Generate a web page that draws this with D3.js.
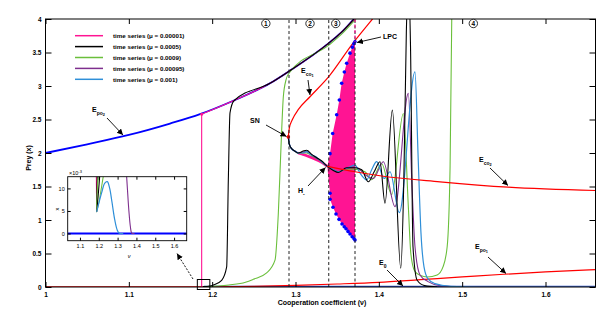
<!DOCTYPE html>
<html>
<head>
<meta charset="utf-8">
<script src="https://cdn.jsdelivr.net/npm/d3@7"></script>
<style>
  body { margin: 0; background: #fff; }
  svg { display: block; font-family: "Liberation Sans", Arial, sans-serif; }
</style>
</head>
<body>
<div id="chart"></div>
<script>
// axis ticks
const xTicks = [1, 1.1, 1.2, 1.3, 1.4, 1.5, 1.6];
const yTicks = [0, 0.5, 1, 1.5, 2, 2.5, 3, 3.5, 4];
const insetXTicks = [1.1, 1.2, 1.3, 1.4, 1.5, 1.6];
const insetYTicks = [0, 5, 10];

// legend
const legendLabels = [
  'time series (\u03bc = 0.00001)',
  'time series (\u03bc = 0.0005)',
  'time series (\u03bc = 0.0009)',
  'time series (\u03bc = 0.00095)',
  'time series (\u03bc = 0.001)'
];

// equilibrium branches [nu, x]
const ePo2 = [[1.0, 2.0], [1.05, 2.13], [1.1, 2.27], [1.1494, 2.44], [1.1854, 2.58], [1.2254, 2.78],
  [1.2694, 3.04], [1.2922, 3.22], [1.3399, 3.64], [1.355, 3.80], [1.3702, 4.0], [1.38, 4.13]];
const eCoUpper = [[1.2914, 2.24], [1.2926, 2.37], [1.2963, 2.5], [1.3035, 2.65], [1.3174, 2.84],
  [1.3399, 3.14], [1.369, 3.64], [1.393, 4.01], [1.40, 4.12]];
const eCoStable = [[1.2914, 2.24], [1.2924, 2.14], [1.2950, 2.07], [1.2990, 2.03], [1.3034, 2.0],
  [1.3195, 1.94], [1.3315, 1.87], [1.3382, 1.80]];
const eCoUnstable = [[1.3382, 1.80], [1.3714, 1.72], [1.4014, 1.66], [1.4734, 1.57], [1.555, 1.49], [1.66, 1.44]];
const ePo1 = [[1.19, 0], [1.25, 0.01], [1.30, 0.025], [1.35, 0.045], [1.40, 0.07], [1.45, 0.11],
  [1.50, 0.15], [1.55, 0.19], [1.60, 0.225], [1.66, 0.26]];
const e0Unstable = [[1.0, 0], [1.19, 0]];
const e0Stable = [[1.19, 0], [1.66, 0]];
const pinkBranch = [[1.3034, 2.0], [1.3195, 1.93], [1.3315, 1.86], [1.3382, 1.80]];

// limit cycle amplitude (max / min) between H and LPC
const lcMax = [[1.3382, 1.80], [1.3414, 1.99], [1.3446, 2.29], [1.3494, 2.57], [1.3526, 2.79], [1.3554, 3.04],
  [1.3586, 3.21], [1.3614, 3.34], [1.3654, 3.49], [1.3682, 3.58], [1.3700, 3.63], [1.3714, 3.66]];
const lcMin = [[1.3382, 1.80], [1.3414, 1.40], [1.3414, 1.31], [1.345, 1.19], [1.3486, 1.09], [1.3522, 1.01],
  [1.3558, 0.94], [1.3585, 0.90], [1.3606, 0.87], [1.3630, 0.83], [1.3654, 0.79], [1.3680, 0.75],
  [1.3702, 0.72], [1.3714, 0.70]];

// time series, each as segments of [nu, x]
const tsPink = [
  [[1.1874, 0], [1.1874, 2.58]],
  [[1.1874, 2.58], [1.2254, 2.78], [1.2694, 3.04], [1.2922, 3.22], [1.3399, 3.64], [1.355, 3.80], [1.3702, 4.0], [1.38, 4.13]]
];
const tsBlack = [
  [[1.189, 0.005], [1.1975, 0.015], [1.2014, 0.03], [1.2114, 0.10], [1.2174, 0.30], [1.2194, 1.6], [1.2214, 2.6],
    [1.2262, 2.78], [1.2694, 3.04], [1.2922, 3.22], [1.3399, 3.64], [1.355, 3.80], [1.3702, 4.0], [1.38, 4.13]],
  [[1.2914, 2.24], [1.2924, 2.14], [1.2950, 2.07], [1.2990, 2.03], [1.3034, 2.0], [1.3094, 2.03], [1.3134, 2.04],
    [1.3194, 1.98], [1.3254, 1.93], [1.3315, 1.88], [1.3382, 1.80], [1.3454, 1.74], [1.3514, 1.71], [1.3614, 1.78],
    [1.3714, 1.78], [1.3795, 1.75], [1.3874, 1.57], [1.3944, 1.72], [1.4014, 1.87], [1.4074, 1.25], [1.4162, 2.64],
    [1.4263, 0.28], [1.4300, 1.6], [1.4330, 3.8], [1.4355, 4.6], [1.4380, 3.6], [1.4410, 0.6], [1.4460, 0.1],
    [1.455, 0.02], [1.47, 0]]
];
const tsGreen = [
  [[1.189, 0.005], [1.22, 0.03], [1.24, 0.07], [1.2494, 0.115], [1.2654, 0.21], [1.2754, 0.40], [1.2794, 1.10],
    [1.2826, 2.09], [1.2854, 2.84], [1.2886, 3.09], [1.2922, 3.19], [1.3399, 3.61], [1.355, 3.77], [1.3702, 3.97], [1.38, 4.1]],
  [[1.2914, 2.24], [1.2924, 2.14], [1.2950, 2.07], [1.2990, 2.03], [1.3034, 2.0], [1.3134, 2.0], [1.3194, 1.96],
    [1.3315, 1.87], [1.3382, 1.80], [1.3454, 1.75], [1.3514, 1.72], [1.3614, 1.76], [1.3714, 1.76], [1.3834, 1.72],
    [1.3914, 1.60], [1.4034, 1.84], [1.4154, 1.38], [1.4294, 2.59], [1.4354, 1.2], [1.4384, 0.5], [1.443, 0.24],
    [1.45, 0.17], [1.458, 0.15], [1.470, 0.18], [1.477, 0.3], [1.482, 0.6], [1.4855, 1.8], [1.4875, 4.0], [1.489, 4.6]]
];
const tsPurple = [
  [[1.2914, 2.24], [1.2924, 2.14], [1.2950, 2.07], [1.2990, 2.03], [1.3034, 2.0], [1.3134, 2.02], [1.3194, 1.97],
    [1.3315, 1.87], [1.3382, 1.80], [1.3454, 1.75], [1.3514, 1.72], [1.3614, 1.77], [1.3714, 1.79], [1.3854, 1.66],
    [1.3934, 1.62], [1.4054, 1.87], [1.4194, 1.20], [1.4354, 2.89], [1.4398, 1.5], [1.4434, 0.6], [1.4494, 0.18],
    [1.459, 0.08], [1.4734, 0.02], [1.50, 0], [1.66, 0]]
];
const tsBlue = [
  [[1.2914, 2.24], [1.2924, 2.14], [1.2950, 2.07], [1.2990, 2.03], [1.3034, 2.0], [1.309, 2.0], [1.3134, 2.02],
    [1.3194, 1.97], [1.3234, 1.95], [1.3314, 1.87], [1.3382, 1.80], [1.3454, 1.75], [1.3514, 1.72], [1.3614, 1.77],
    [1.3714, 1.82], [1.3774, 1.70], [1.3854, 1.60], [1.3914, 1.75], [1.3974, 1.87], [1.4064, 1.62], [1.4134, 1.72],
    [1.4246, 1.11], [1.4434, 3.21], [1.447, 2.0], [1.4506, 0.8], [1.4542, 0.3], [1.459, 0.12], [1.4674, 0.05],
    [1.4854, 0.01], [1.52, 0], [1.66, 0]]
];

// bifurcation parameters and region labels
const bifNu = [1.2922, 1.3399, 1.3714];
const snPoint = [1.2914, 2.24];
const regionNames = ['1', '2', '3', '4'];
const regionNu = [1.2644, 1.3174, 1.3483, 1.5134];

// inset (x values in units of 1e-3)
const insetE0 = [[1.035, 0], [1.667, 0]];
const insetPink = [[1.187, 14], [1.189, 4.8]];
const insetBlack = [[1.193, 14], [1.189, 4.8], [1.207, 14]];
const insetGreen = [[1.199, 14], [1.189, 4.8], [1.229, 14]];
const insetBlue = [[1.189, 4.8], [1.215, 9.0], [1.232, 11.2], [1.2453, 11.5], [1.258, 10], [1.27, 7],
  [1.285, 3], [1.2984, 0.73], [1.309, 0.05], [1.33, 0]];
const insetPurple = [[1.346, 14], [1.352, 10], [1.36, 5], [1.368, 1.5], [1.375, 0.1], [1.39, 0]];

const colors = {
  pink: '#ff1493', black: '#000000', green: '#6abf3b', purple: '#7e2f8e', tsBlue: '#2f8fd8',
  blue: '#0000ff', red: '#ff0000', e0: '#2a4fd0'
};

const width = 612, height = 319;
const x = d3.scaleLinear().domain([1, 1.66]).range([45.5, 595.5]);
const y = d3.scaleLinear().domain([0, 4]).range([287, 19]);

const svg = d3.select('#chart').append('svg')
  .attr('width', width).attr('height', height)
  .attr('viewBox', [0, 0, width, height]);

const defs = svg.append('defs');
defs.append('clipPath').attr('id', 'plotclip').append('rect')
  .attr('x', x(1)).attr('y', y(4)).attr('width', x(1.66) - x(1)).attr('height', y(0) - y(4));
defs.append('marker').attr('id', 'arrow')
  .attr('markerUnits', 'userSpaceOnUse').attr('markerWidth', 7).attr('markerHeight', 7)
  .attr('refX', 6).attr('refY', 3).attr('orient', 'auto')
  .append('path').attr('d', 'M0,0 L6,3 L0,6 z').attr('fill', '#000');

const line = d3.line().x(d => x(d[0])).y(d => y(d[1])).curve(d3.curveMonotoneX);
const lineLin = d3.line().x(d => x(d[0])).y(d => y(d[1]));

const plot = svg.append('g').attr('clip-path', 'url(#plotclip)');

function drawPath(g, data, color, w, gen) {
  g.append('path').attr('d', (gen || line)(data)).attr('fill', 'none')
    .attr('stroke', color).attr('stroke-width', w).attr('stroke-linejoin', 'round');
}

// E0 and Epo1
drawPath(plot, e0Stable, colors.e0, 2.6, lineLin);
drawPath(plot, e0Unstable, colors.red, 1.6, lineLin);
drawPath(plot, ePo1, colors.red, 1.2);

// pink limit cycle region
const regionPoly = lcMax.concat(lcMin.slice().reverse());
plot.append('path').attr('d', lineLin(regionPoly) + 'Z').attr('fill', colors.pink).attr('stroke', 'none');

// upper stable branch
drawPath(plot, ePo2, colors.blue, 1.8);

// time series
drawPath(plot, tsPink[0], colors.pink, 1.1, lineLin);
drawPath(plot, tsPink[1], colors.pink, 1.1);
drawPath(plot, eCoStable, colors.blue, 1.3);
drawPath(plot, pinkBranch, colors.pink, 2.6);
tsGreen.forEach(s => drawPath(plot, s, colors.green, 1.1));
tsPurple.forEach(s => drawPath(plot, s, colors.purple, 1.1));
tsBlue.forEach(s => drawPath(plot, s, colors.tsBlue, 1.2));
tsBlack.forEach(s => drawPath(plot, s, colors.black, 1.1));

// unstable branches
drawPath(plot, eCoUpper, colors.red, 1.2);
drawPath(plot, eCoUnstable, colors.red, 1.2);

// limit cycle dots
plot.append('g').selectAll('circle').data(lcMax.slice(1).concat(lcMin.slice(1))).join('circle')
  .attr('cx', d => x(d[0])).attr('cy', d => y(d[1])).attr('r', 1.8).attr('fill', colors.blue);

// SN point and pink jump point
plot.append('circle').attr('cx', x(snPoint[0])).attr('cy', y(snPoint[1])).attr('r', 1.8).attr('fill', colors.red);
plot.append('circle').attr('cx', x(tsPink[0][1][0])).attr('cy', y(tsPink[0][1][1])).attr('r', 1.5).attr('fill', colors.pink);

// dashed bifurcation lines
bifNu.forEach(nu => {
  svg.append('line').attr('x1', x(nu)).attr('x2', x(nu)).attr('y1', y(0)).attr('y2', y(4))
    .attr('stroke', '#222').attr('stroke-width', 1).attr('stroke-dasharray', '3,2.5');
});
svg.append('line').attr('x1', x(bifNu[2])).attr('x2', x(bifNu[2])).attr('y1', y(4)).attr('y2', y(lcMax[lcMax.length - 1][1]))
  .attr('stroke', colors.pink).attr('stroke-width', 1.2).attr('stroke-dasharray', '3,2.5');

// axes
const fmt = d3.format('~g');
const axisFont = g => g.selectAll('text').attr('font-size', 6.5).attr('font-weight', 'bold').attr('fill', '#000');
svg.append('g').attr('transform', `translate(0,${y(0)})`)
  .call(d3.axisBottom(x).tickValues(xTicks).tickSize(-5).tickSizeOuter(0).tickPadding(5).tickFormat(fmt))
  .call(g => g.select('.domain').remove()).call(axisFont);
svg.append('g').attr('transform', `translate(0,${y(4)})`)
  .call(d3.axisTop(x).tickValues(xTicks).tickSize(-5).tickSizeOuter(0).tickFormat(''))
  .call(g => g.select('.domain').remove());
svg.append('g').attr('transform', `translate(${x(1)},0)`)
  .call(d3.axisLeft(y).tickValues(yTicks).tickSize(-6).tickSizeOuter(0).tickPadding(4).tickFormat(fmt))
  .call(g => g.select('.domain').remove()).call(axisFont);
svg.append('g').attr('transform', `translate(${x(1.66)},0)`)
  .call(d3.axisRight(y).tickValues(yTicks).tickSize(-6).tickSizeOuter(0).tickFormat(''))
  .call(g => g.select('.domain').remove());
svg.selectAll('.tick line').attr('stroke', '#000');
svg.append('rect').attr('x', x(1)).attr('y', y(4)).attr('width', x(1.66) - x(1)).attr('height', y(0) - y(4))
  .attr('fill', 'none').attr('stroke', '#000').attr('stroke-width', 1);

// axis titles
svg.append('text').attr('x', 322).attr('y', 305).attr('text-anchor', 'middle')
  .attr('font-size', 7).attr('font-weight', 'bold').text('Cooperation coefficient (\u03bd)');
svg.append('text').attr('transform', 'translate(31,158) rotate(-90)').attr('text-anchor', 'middle')
  .attr('font-size', 7).attr('font-weight', 'bold').text('Prey (x)');

// region labels
regionNu.forEach((nu, i) => {
  const g = svg.append('g').attr('transform', `translate(${x(nu)},23.5)`);
  g.append('circle').attr('r', 4.2).attr('fill', '#fff').attr('stroke', '#000').attr('stroke-width', 0.8);
  g.append('text').attr('y', 2.4).attr('text-anchor', 'middle').attr('font-size', 6.5)
    .attr('font-weight', 'bold').text(regionNames[i]);
});

// annotations
const annotations = [
  { main: 'E', sub: 'po', sub2: '2', tx: 92, ty: 112, x1: 107, y1: 118, x2: 123, y2: 135 },
  { main: 'SN', tx: 250, ty: 123, x1: 266, y1: 125, x2: 286.5, y2: 136.5 },
  { main: 'E', sub: 'co', sub2: '1', tx: 301, ty: 73, x1: 308, y1: 80, x2: 310, y2: 95 },
  { main: 'LPC', tx: 383, ty: 39, x1: 381, y1: 37, x2: 357, y2: 42.5 },
  { main: 'H', sub: '-', tx: 298, ty: 193, x1: 308, y1: 186, x2: 325.5, y2: 167.5 },
  { main: 'E', sub: 'co', sub2: '2', tx: 479, ty: 162, x1: 490, y1: 168, x2: 508, y2: 185.5 },
  { main: 'E', sub: 'po', sub2: '1', tx: 475, ty: 249, x1: 488, y1: 257, x2: 506, y2: 273.5 },
  { main: 'E', sub: '0', tx: 379, ty: 265, x1: 387, y1: 270, x2: 403, y2: 286 }
];
annotations.forEach(a => {
  svg.append('line').attr('x1', a.x1).attr('y1', a.y1).attr('x2', a.x2).attr('y2', a.y2)
    .attr('stroke', '#000').attr('stroke-width', 0.9).attr('marker-end', 'url(#arrow)');
  const t = svg.append('text').attr('x', a.tx).attr('y', a.ty).attr('font-size', 7).attr('font-weight', 'bold');
  t.append('tspan').text(a.main);
  if (a.sub) t.append('tspan').attr('dy', 2.5).attr('font-size', 5).text(a.sub);
  if (a.sub2) t.append('tspan').attr('dy', 1.5).attr('font-size', 3.8).text(a.sub2);
});

// zoom box and dashed arrow to inset
const bx = x(1.19);
svg.append('rect').attr('x', bx - 6.5).attr('y', 279.5).attr('width', 12.5).attr('height', 10)
  .attr('fill', 'none').attr('stroke', '#000').attr('stroke-width', 1);
svg.append('line').attr('x1', 193).attr('y1', 279).attr('x2', 177).attr('y2', 253.5)
  .attr('stroke', '#000').attr('stroke-width', 0.9).attr('stroke-dasharray', '2,1.5').attr('marker-end', 'url(#arrow)');

// legend
const legend = svg.append('g');
const legendColors = [colors.pink, colors.black, colors.green, colors.purple, colors.tsBlue];
legendLabels.forEach((lab, i) => {
  const ly = 35.7 + i * 10.9;
  legend.append('line').attr('x1', 75).attr('x2', 103).attr('y1', ly).attr('y2', ly)
    .attr('stroke', legendColors[i]).attr('stroke-width', 1.5);
  legend.append('text').attr('x', 113).attr('y', ly + 2.2).attr('font-size', 6.2).attr('font-weight', 'bold').text(lab);
});

// inset
const xi = d3.scaleLinear().domain([1.035, 1.667]).range([67.7, 186.7]);
const yi = d3.scaleLinear().domain([-1.6, 12.6]).range([240.7, 176.7]);
const inset = svg.append('g');
defs.append('clipPath').attr('id', 'insetclip').append('rect')
  .attr('x', xi(1.035)).attr('y', yi(12.6)).attr('width', xi(1.667) - xi(1.035)).attr('height', yi(-1.6) - yi(12.6));
inset.append('rect').attr('x', xi(1.035)).attr('y', yi(12.6)).attr('width', xi(1.667) - xi(1.035))
  .attr('height', yi(-1.6) - yi(12.6)).attr('fill', '#fff');
const iline = d3.line().x(d => xi(d[0])).y(d => yi(d[1])).curve(d3.curveCatmullRom.alpha(0.5));
const ig = inset.append('g').attr('clip-path', 'url(#insetclip)');
[[insetE0, colors.blue, 2.2], [insetPink, colors.pink, 1.1], [insetBlack, colors.black, 1.1],
  [insetGreen, colors.green, 1.1], [insetBlue, colors.tsBlue, 1.2], [insetPurple, colors.purple, 1.1]]
  .forEach(([d, c, w]) => ig.append('path').attr('d', iline(d)).attr('fill', 'none')
    .attr('stroke', c).attr('stroke-width', w));
const insetFont = g => g.selectAll('text').attr('font-size', 5.5).attr('fill', '#000');
inset.append('g').attr('transform', `translate(0,${yi(-1.6)})`)
  .call(d3.axisBottom(xi).tickValues(insetXTicks).tickSize(-3).tickSizeOuter(0).tickPadding(3).tickFormat(fmt))
  .call(g => g.select('.domain').remove()).call(insetFont);
inset.append('g').attr('transform', `translate(0,${yi(12.6)})`)
  .call(d3.axisTop(xi).tickValues(insetXTicks).tickSize(-3).tickSizeOuter(0).tickFormat(''))
  .call(g => g.select('.domain').remove());
inset.append('g').attr('transform', `translate(${xi(1.035)},0)`)
  .call(d3.axisLeft(yi).tickValues(insetYTicks).tickSize(-3).tickSizeOuter(0).tickPadding(3))
  .call(g => g.select('.domain').remove()).call(insetFont);
inset.append('g').attr('transform', `translate(${xi(1.667)},0)`)
  .call(d3.axisRight(yi).tickValues(insetYTicks).tickSize(-3).tickSizeOuter(0).tickFormat(''))
  .call(g => g.select('.domain').remove());
inset.selectAll('.tick line').attr('stroke', '#000');
inset.append('rect').attr('x', xi(1.035)).attr('y', yi(12.6)).attr('width', xi(1.667) - xi(1.035))
  .attr('height', yi(-1.6) - yi(12.6)).attr('fill', 'none').attr('stroke', '#000').attr('stroke-width', 0.9);
const expo = inset.append('text').attr('x', 69).attr('y', 175).attr('font-size', 5.5);
expo.append('tspan').text('\u00d710');
expo.append('tspan').attr('dy', -2).attr('font-size', 4).text('-3');
inset.append('text').attr('transform', 'translate(59,209) rotate(-90)').attr('text-anchor', 'middle')
  .attr('font-size', 5.5).text('x');
inset.append('text').attr('x', 129).attr('y', 258).attr('text-anchor', 'middle')
  .attr('font-size', 5.5).attr('font-style', 'italic').text('\u03bd');
</script>
</body>
</html>
